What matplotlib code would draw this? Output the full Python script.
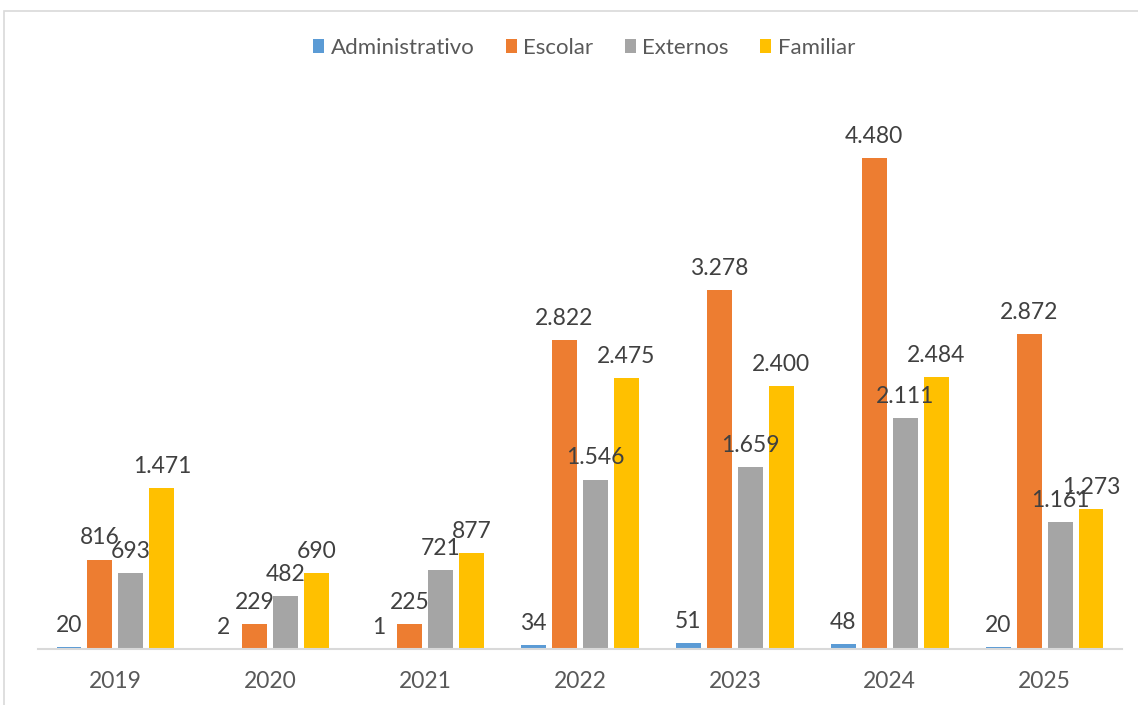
import matplotlib
matplotlib.use("Agg")
import matplotlib.pyplot as plt
from matplotlib.patches import Rectangle
import numpy as np

years = ["2019", "2020", "2021", "2022", "2023", "2024", "2025"]
series_names = ["Administrativo", "Escolar", "Externos", "Familiar"]
administrativo = [20, 2, 1, 34, 51, 48, 20]
escolar = [816, 229, 225, 2822, 3278, 4480, 2872]
externos = [693, 482, 721, 1546, 1659, 2111, 1161]
familiar = [1471, 690, 877, 2475, 2400, 2484, 1273]
colors = ["#5B9BD5", "#ED7D31", "#A5A5A5", "#FFC000"]

plt.rcParams['font.family'] = ['Lato', 'DejaVu Sans']
text_color = "#595959"

fig = plt.figure(figsize=(11.38, 7.05), dpi=100)
ax = fig.add_axes([38/1138, 1-649/705, (1122-38)/1138, (649-101)/705])

x = np.arange(len(years))
width = 0.161
offsets = [-0.3, -0.1, 0.1, 0.3]
all_series = [administrativo, escolar, externos, familiar]

def fmt(v):
    return f"{v:,}".replace(",", ".")

for name, vals, off, c in zip(series_names, all_series, offsets, colors):
    bars = ax.bar(x + off, vals, width, color=c, label=name, zorder=2)
    for b, v in zip(bars, vals):
        ax.annotate(fmt(v), (b.get_x() + b.get_width()/2, b.get_height()),
                    xytext=(0, 8), textcoords="offset points",
                    ha="center", va="bottom", fontsize=16.5, color="#404040")

ax.set_xlim(-0.5, len(years) - 0.5)
ax.set_ylim(0, 5000)
ax.set_xticks(x)
ax.set_xticklabels(years, fontsize=16.5, color=text_color)
ax.tick_params(axis='x', length=0, pad=16)
ax.set_yticks([])
for s in ["top", "right", "left"]:
    ax.spines[s].set_visible(False)
ax.spines["bottom"].set_color("#D9D9D9")
ax.spines["bottom"].set_linewidth(1.5)

leg = fig.legend(loc="center", bbox_to_anchor=(584/1138, 1-48/705), ncol=4,
                 frameon=False, fontsize=16, handlelength=0.5, handleheight=0.6,
                 handletextpad=0.3, columnspacing=1.4)
for t in leg.get_texts():
    t.set_color(text_color)

fig.patches.append(Rectangle((4/1138, -0.1), 1.2, 1 - 11/705 + 0.1,
                             transform=fig.transFigure, fill=False,
                             edgecolor="#D9D9D9", linewidth=1.2))

fig.savefig("out.png", dpi=100)
